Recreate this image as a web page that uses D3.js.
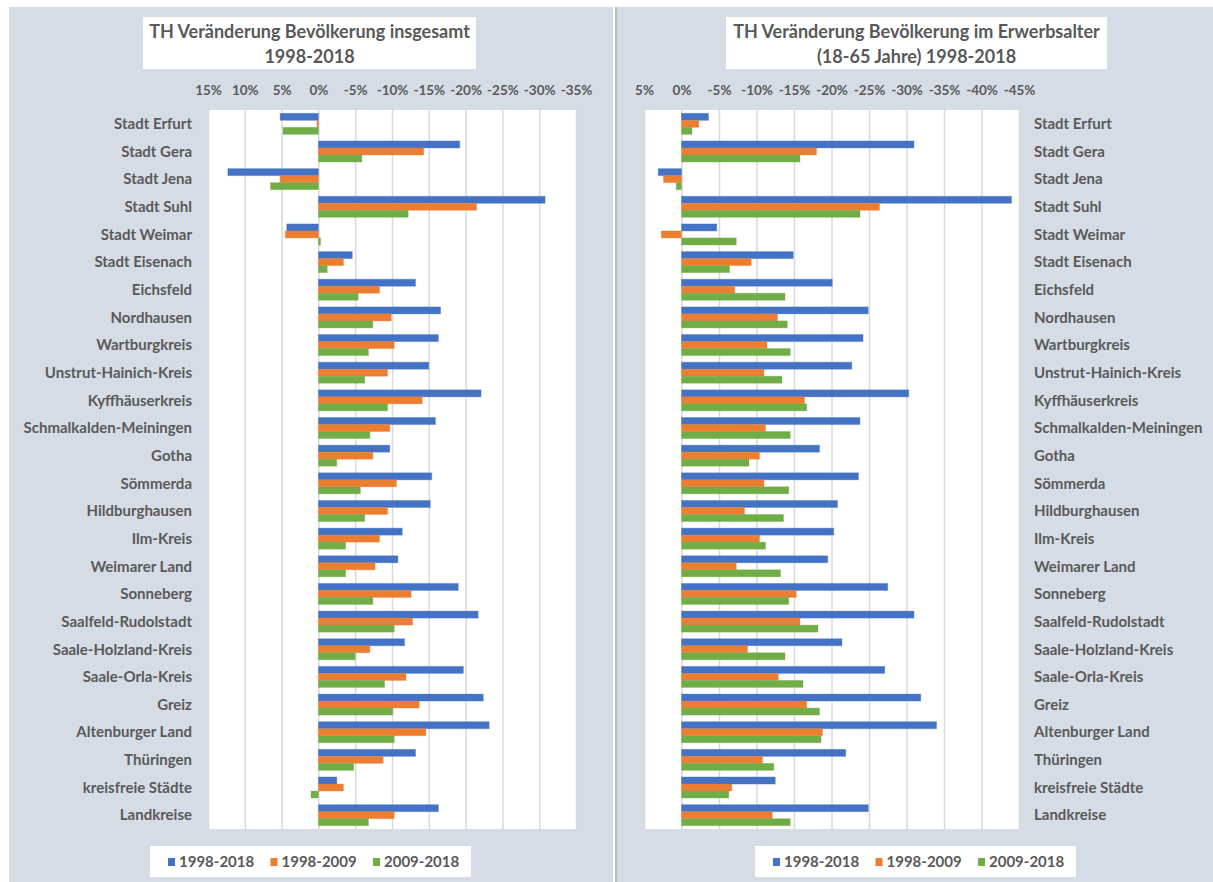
<!DOCTYPE html>
<html><head><meta charset="utf-8">
<script src="https://cdn.jsdelivr.net/npm/d3@7"></script>
<style>
html,body{margin:0;padding:0;background:#fff;}
svg text{font-family:Lato,"Open Sans",sans-serif;fill:#595959;font-weight:bold;}
</style></head><body>
<svg id="c" width="1213" height="882"></svg>
<script>
const categories = ["Stadt Erfurt","Stadt Gera","Stadt Jena","Stadt Suhl","Stadt Weimar","Stadt Eisenach","Eichsfeld","Nordhausen","Wartburgkreis","Unstrut-Hainich-Kreis","Kyffhäuserkreis","Schmalkalden-Meiningen","Gotha","Sömmerda","Hildburghausen","Ilm-Kreis","Weimarer Land","Sonneberg","Saalfeld-Rudolstadt","Saale-Holzland-Kreis","Saale-Orla-Kreis","Greiz","Altenburger Land","Thüringen","kreisfreie Städte","Landkreise"];
const seriesNames = ["1998-2018","1998-2009","2009-2018"];

// Left chart: Veränderung Bevölkerung insgesamt (%)
const total_1998_2018 = [5.2,-19.2,12.3,-30.8,4.3,-4.6,-13.2,-16.6,-16.3,-15.0,-22.1,-15.9,-9.7,-15.4,-15.2,-11.4,-10.8,-19.0,-21.7,-11.7,-19.7,-22.4,-23.2,-13.2,-2.5,-16.3];
const total_1998_2009 = [0.2,-14.3,5.2,-21.5,4.5,-3.4,-8.3,-9.9,-10.3,-9.4,-14.1,-9.7,-7.4,-10.6,-9.4,-8.3,-7.7,-12.6,-12.8,-7.0,-11.9,-13.7,-14.6,-8.8,-3.4,-10.3];
const total_2009_2018 = [4.8,-5.9,6.5,-12.2,-0.3,-1.2,-5.4,-7.4,-6.8,-6.3,-9.4,-7.0,-2.5,-5.7,-6.3,-3.7,-3.7,-7.4,-10.3,-5.0,-9.0,-10.1,-10.3,-4.8,1.0,-6.8];

// Right chart: Veränderung Bevölkerung im Erwerbsalter 18-65 (%)
const work_1998_2018 = [-3.6,-31.0,3.1,-44.0,-4.7,-14.9,-20.1,-24.9,-24.2,-22.7,-30.3,-23.8,-18.4,-23.6,-20.8,-20.3,-19.5,-27.5,-31.0,-21.4,-27.1,-31.9,-34.0,-21.9,-12.5,-24.9];
const work_1998_2009 = [-2.3,-18.0,2.4,-26.4,2.7,-9.3,-7.1,-12.8,-11.4,-11.0,-16.4,-11.2,-10.4,-11.0,-8.4,-10.4,-7.3,-15.3,-15.8,-8.8,-12.9,-16.7,-18.8,-10.8,-6.7,-12.1];
const work_2009_2018 = [-1.4,-15.8,0.7,-23.8,-7.3,-6.4,-13.8,-14.1,-14.5,-13.4,-16.7,-14.5,-9.0,-14.3,-13.6,-11.2,-13.2,-14.3,-18.2,-13.8,-16.2,-18.4,-18.6,-12.3,-6.3,-14.5];

const leftTicks = [15,10,5,0,-5,-10,-15,-20,-25,-30,-35];
const rightTicks = [5,0,-5,-10,-15,-20,-25,-30,-35,-40,-45];
const colors = ["#4472c4","#ed7d31","#70ad47"];

const svg = d3.select("#c");
// panels
svg.append("rect").attr("x",9).attr("y",7).attr("width",604).attr("height",875).attr("fill","#d6dce5");
svg.append("rect").attr("x",617).attr("y",7).attr("width",596).attr("height",875).attr("fill","#d6dce5");
svg.append("line").attr("x1",616).attr("x2",616).attr("y1",7).attr("y2",882).attr("stroke","#a6a6a6").attr("stroke-width",1.5);

function chart(cfg){
  const g = svg.append("g");
  const x = d3.scaleLinear().domain([cfg.ticks[0], cfg.ticks[cfg.ticks.length-1]]).range([cfg.x0, cfg.x1]);
  const y = d3.scaleBand().domain(categories).range([110,829]).paddingInner(0.24).paddingOuter(0.12);
  const ys = d3.scaleBand().domain(seriesNames).range([0,y.bandwidth()]);
  // title
  g.append("rect").attr("x",cfg.tx).attr("y",17).attr("width",cfg.tw).attr("height",52).attr("fill","#fff");
  cfg.title.forEach((t,i)=>{
    g.append("text").attr("x",cfg.tx+cfg.tw/2).attr("y",38+i*25).attr("text-anchor","middle")
     .style("font-size","18px").text(t);
  });
  // plot area
  g.append("rect").attr("x",cfg.x0).attr("y",110).attr("width",cfg.x1-cfg.x0).attr("height",719).attr("fill","#fff");
  // gridlines
  const grid = g.append("g").attr("transform","translate(0,829)")
    .call(d3.axisTop(x).tickValues(cfg.ticks).tickSize(719).tickFormat(""));
  grid.select(".domain").remove();
  grid.selectAll("line").attr("stroke","#d9d9d9").attr("stroke-width",1.5);
  // tick labels
  const ax = g.append("g").attr("transform","translate(0,95)")
    .call(d3.axisTop(x).tickValues(cfg.ticks).tickSize(0).tickPadding(0).tickFormat(d=>d+"%"));
  ax.select(".domain").remove();
  ax.selectAll("text").style("font-size","13.5px").attr("font-family",null).attr("fill","#595959");
  // bars
  cfg.data.forEach((arr,si)=>{
    g.append("g").selectAll("rect").data(arr).join("rect")
      .attr("x",d=>Math.min(x(d),x(0)))
      .attr("width",d=>Math.abs(x(d)-x(0)))
      .attr("y",(d,i)=>y(categories[i])+ys(seriesNames[si]))
      .attr("height",ys.bandwidth())
      .attr("fill",colors[si])
      .attr("stroke",colors[si]).attr("stroke-opacity",0.35).attr("stroke-width",1);
  });
  // category labels
  g.append("g").selectAll("text").data(categories).join("text")
    .attr("x",cfg.lx).attr("y",d=>y(d)+y.bandwidth()/2).attr("dy","0.35em")
    .attr("text-anchor",cfg.anchor).style("font-size","15px").text(d=>d);
  // legend
  g.append("rect").attr("x",cfg.legX).attr("y",846).attr("width",321).attr("height",31).attr("fill","#fff");
  seriesNames.forEach((s,i)=>{
    const lx = cfg.legX+18+i*102.5;
    g.append("rect").attr("x",lx).attr("y",858).attr("width",7).attr("height",8).attr("fill",colors[i]);
    g.append("text").attr("x",lx+11).attr("y",862).attr("dy","0.35em").style("font-size","15px").text(s);
  });
}

chart({ticks:leftTicks,x0:208,x1:576,tx:143,tw:333,title:["TH Veränderung Bevölkerung insgesamt","1998-2018"],
  data:[total_1998_2018,total_1998_2009,total_2009_2018],lx:192,anchor:"end",legX:150});
chart({ticks:rightTicks,x0:644,x1:1019,tx:726,tw:381,title:["TH Veränderung Bevölkerung im Erwerbsalter","(18-65 Jahre) 1998-2018"],
  data:[work_1998_2018,work_1998_2009,work_2009_2018],lx:1034,anchor:"start",legX:755});
</script></body></html>
